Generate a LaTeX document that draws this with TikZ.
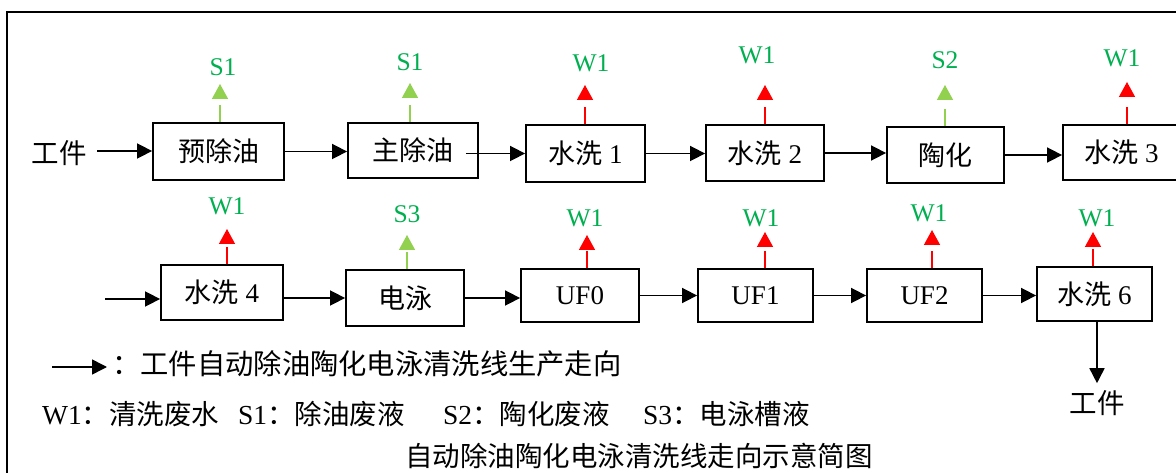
\documentclass[tikz,border=0pt]{standalone}
\usepackage{fontspec}
\setmainfont{Liberation Serif}
\newfontfamily\cjk{Noto Sans CJK SC}
\usetikzlibrary{arrows.meta}
\definecolor{lblgreen}{HTML}{00B050}
\definecolor{lgreen}{HTML}{92D050}
\definecolor{wred}{HTML}{FF0000}
\newcommand{\zh}[1]{{\cjk #1}}
\begin{document}
\begin{tikzpicture}[x=1pt,y=-1pt,
  box/.style={draw,line width=1.8pt,inner sep=0pt,font=\fontsize{27}{30}\selectfont},
  flow/.style={line width=1.6pt,-{Triangle[length=15pt,width=15pt]}},
  emit/.style={line width=1.4pt,dash pattern=on 17pt off 40pt,-{Triangle[length=15pt,width=16pt]}},
  emitR/.style={emit,wred},
  emitG/.style={emit,lgreen},
  lab/.style={text=lblgreen,font=\fontsize{25.5}{28}\selectfont,inner sep=0pt},
  txt/.style={font=\fontsize{27.5}{30}\selectfont,inner sep=0pt}]
\useasboundingbox (0,0) rectangle (1176,473);
\clip (0,0) rectangle (1176,473);
\fill[white] (0,0) rectangle (1176,473);
% outer frame
\draw[line width=1.6pt] (7,12) rectangle (1200,500);

% row 1 boxes
\node[txt] (gj1) at (59,153) {\zh{工件}};
\node[box,minimum width=131pt,minimum height=57pt] (yu) at (218.5,151.5) {\zh{预除油}};
\node[box,minimum width=130pt,minimum height=55pt] (zhu) at (413,150.5) {\zh{主除油}};
\node[box,minimum width=119pt,minimum height=57pt] (sx1) at (585.5,153.5) {\zh{水洗} 1};
\node[box,minimum width=118pt,minimum height=56pt] (sx2) at (765,153) {\zh{水洗} 2};
\node[box,minimum width=117pt,minimum height=56pt] (th) at (945.5,155) {\zh{陶化}};
\node[box,minimum width=117pt,minimum height=55pt] (sx3) at (1121.5,152.5) {\zh{水洗} 3};

% row 2 boxes
\node[box,minimum width=122pt,minimum height=55pt] (sx4) at (222,292.5) {\zh{水洗} 4};
\node[box,minimum width=118pt,minimum height=56pt] (dy) at (405,298) {\zh{电泳}};
\node[box,minimum width=118pt,minimum height=53pt] (uf0) at (580,295.5) {UF0};
\node[box,minimum width=115pt,minimum height=53pt] (uf1) at (755.5,295.5) {UF1};
\node[box,minimum width=115pt,minimum height=53pt] (uf2) at (924.5,295.5) {UF2};
\node[box,minimum width=115pt,minimum height=54pt] (sx6) at (1094.5,294) {\zh{水洗} 6};
\node[txt] (gj2) at (1097,403) {\zh{工件}};

% flow arrows row 1
\coordinate (in1) at (97,151);
\draw[flow] (in1) -- (in1 -| yu.west);
\draw[flow] (yu.east) -- (yu.east -| zhu.west);
\coordinate (z1) at ([xshift=-13pt]zhu.east);
\draw[flow] (z1 |- sx1.west) -- (sx1.west);
\draw[flow] (sx1.east) -- (sx1.east -| sx2.west);
\draw[flow] (sx2.east) -- (sx2.east -| th.west);
\draw[flow] (th.east) -- (th.east -| sx3.west);

% flow arrows row 2
\coordinate (in2) at (105,299);
\draw[flow] (in2) -- (in2 -| sx4.west);
\draw[flow] (dy.west -| sx4.east) -- (dy.west);
\draw[flow] (dy.east) -- (dy.east -| uf0.west);
\draw[flow] (uf0.east) -- (uf0.east -| uf1.west);
\draw[flow] (uf1.east) -- (uf1.east -| uf2.west);
\draw[flow] (uf2.east) -- (uf2.east -| sx6.west);
\draw[flow,shorten >=7pt] (sx6.south -| gj2.north) -- (gj2.north);

% emission labels and arrows row 1
\node[lab] (l1) at (223,67) {S1};
\node[lab] (l2) at (410,62) {S1};
\node[lab] (l3) at (591,63) {W1};
\node[lab] (l4) at (757,55) {W1};
\node[lab] (l5) at (945,60) {S2};
\node[lab] (l6) at (1122,58) {W1};
\coordinate (e1) at (220,84);
\coordinate (e2) at (410,83);
\coordinate (e3) at (585,85);
\coordinate (e4) at (765,85);
\coordinate (e5) at (945,85);
\coordinate (e6) at (1127,82);
\draw[emitG] (yu.north -| e1) -- (e1);
\draw[emitG] (zhu.north -| e2) -- (e2);
\draw[emitR] (sx1.north -| e3) -- (e3);
\draw[emitR] (sx2.north -| e4) -- (e4);
\draw[emitG] (th.north -| e5) -- (e5);
\draw[emitR] (sx3.north -| e6) -- (e6);

% emission labels and arrows row 2
\node[lab] (m1) at (227,206) {W1};
\node[lab] (m2) at (407,214) {S3};
\node[lab] (m3) at (585,218) {W1};
\node[lab] (m4) at (761,218) {W1};
\node[lab] (m5) at (929,213) {W1};
\node[lab] (m6) at (1097,218) {W1};
\coordinate (f1) at (227,229);
\coordinate (f2) at (407,235);
\coordinate (f3) at (587,235);
\coordinate (f4) at (765,232);
\coordinate (f5) at (932,230);
\coordinate (f6) at (1093,232);
\draw[emitR] (sx4.north -| f1) -- (f1);
\draw[emitG] (dy.north -| f2) -- (f2);
\draw[emitR] (uf0.north -| f3) -- (f3);
\draw[emitR] (uf1.north -| f4) -- (f4);
\draw[emitR] (uf2.north -| f5) -- (f5);
\draw[emitR] (sx6.north -| f6) -- (f6);

% legend
\coordinate (la) at (52,367);
\coordinate (lb) at (107,367);
\draw[flow] (la) -- (lb);
\node[txt,anchor=west,font=\fontsize{28.3}{30}\selectfont] (leg1) at (112,364) {\zh{：工件自动除油陶化电泳清洗线生产走向}};
\node[txt,anchor=west] (k1) at (42,414) {W1\zh{：清洗废水}};
\node[txt,anchor=west] (k2) at (238,414) {S1\zh{：除油废液}};
\node[txt,anchor=west] (k3) at (443,414) {S2\zh{：陶化废液}};
\node[txt,anchor=west] (k4) at (643,414) {S3\zh{：电泳槽液}};
\node[txt] (title) at (639,456) {\zh{自动除油陶化电泳清洗线走向示意简图}};
\end{tikzpicture}
\end{document}
